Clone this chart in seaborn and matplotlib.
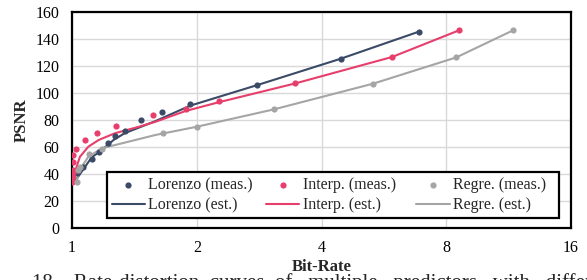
import matplotlib
matplotlib.use('Agg')
import matplotlib.pyplot as plt
import seaborn as sns
import pandas as pd

# measured points (bit-rate, PSNR)
lorenzo_rate = [1.03, 1.065, 1.116, 1.16, 1.22, 1.27, 1.34, 1.47, 1.65, 1.93, 2.79, 4.45, 6.87]
lorenzo_psnr = [40.2, 45.1, 50.6, 56.3, 62.5, 67.9, 71.9, 79.6, 85.7, 91.5, 105.6, 125.3, 145.4]
interp_rate = [1.0, 1.002, 1.003, 1.004, 1.005, 1.007, 1.02, 1.075, 1.15, 1.28, 1.57, 1.88, 2.26, 3.46, 5.92, 8.59]
interp_psnr = [34.0, 36.5, 40.2, 42.7, 48.9, 53.8, 58.3, 65.0, 70.2, 75.6, 83.3, 88.2, 93.9, 107.0, 126.6, 146.4]
regre_rate = [1.026, 1.035, 1.045, 1.10, 1.18, 1.655, 2.0, 3.07, 5.33, 8.46, 11.6]
regre_psnr = [34.0, 42.7, 45.1, 54.6, 58.3, 70.0, 74.8, 87.7, 106.8, 126.3, 146.4]

# estimated curves
lorenzo_est_rate = [1.02, 1.075, 1.115, 1.18, 1.26, 1.34, 1.59, 1.93, 2.79, 4.45, 6.87]
lorenzo_est_psnr = [35.0, 45.0, 52.0, 57.5, 65.0, 70.0, 79.0, 90.5, 105.6, 125.3, 145.4]
interp_est_rate = [1.013, 1.02, 1.045, 1.095, 1.16, 1.27, 1.45, 1.59, 1.88, 2.26, 3.46, 5.92, 8.59]
interp_est_psnr = [33.0, 42.7, 52.5, 60.0, 65.0, 70.0, 74.8, 78.5, 86.5, 93.0, 107.0, 126.6, 146.4]
regre_est_rate = [1.026, 1.055, 1.095, 1.18, 1.32, 1.59, 2.0, 3.07, 5.33, 8.46, 11.6]
regre_est_psnr = [35.0, 45.0, 52.5, 58.8, 62.5, 68.7, 74.8, 87.7, 106.8, 126.3, 146.4]

x_ticks = [1, 2, 4, 8, 16]
y_ticks = [0, 20, 40, 60, 80, 100, 120, 140, 160]

colors = {'Lorenzo': '#3B4A66', 'Interp.': '#E83E6C', 'Regre.': '#A5A5A5'}

sns.set_style('whitegrid')
plt.rcParams['font.family'] = ['Liberation Serif', 'DejaVu Serif']

fig = plt.figure(figsize=(5.87, 2.8), dpi=100)
ax = fig.add_axes([72/587, 1 - 227.5/280, 499/587, 215.5/280])

series = [
    ('Lorenzo', lorenzo_rate, lorenzo_psnr, lorenzo_est_rate, lorenzo_est_psnr),
    ('Interp.', interp_rate, interp_psnr, interp_est_rate, interp_est_psnr),
    ('Regre.', regre_rate, regre_psnr, regre_est_rate, regre_est_psnr),
]

for name, xr, yr, xe, ye in series:
    est = pd.DataFrame({'rate': xe, 'psnr': ye})
    meas = pd.DataFrame({'rate': xr, 'psnr': yr})
    sns.lineplot(data=est, x='rate', y='psnr', color=colors[name], linewidth=1.5,
                 label=name + ' (est.)', ax=ax, zorder=3)
    sns.scatterplot(data=meas, x='rate', y='psnr', color=colors[name], s=20,
                    linewidth=0, label=name + ' (meas.)', ax=ax, zorder=4)

ax.set_xscale('log', base=2)
ax.set_xlim(1, 16)
ax.set_ylim(0, 160)
ax.set_xticks(x_ticks)
ax.set_xticklabels([str(t) for t in x_ticks])
ax.minorticks_off()
ax.set_yticks(y_ticks)
ax.tick_params(axis='both', labelsize=11.5, length=0, colors='black')
ax.tick_params(axis='x', pad=9)
ax.tick_params(axis='y', pad=9)
ax.grid(True, color='#D9D9D9', linewidth=1.0)
for sp in ax.spines.values():
    sp.set_color('black')
    sp.set_linewidth(1.6)

ax.set_xlabel('Bit-Rate', fontsize=12, fontweight='bold', labelpad=2)
ax.set_ylabel('PSNR', fontsize=12, fontweight='bold', labelpad=4)

handles, labels = ax.get_legend_handles_labels()
lookup = dict(zip(labels, handles))
order = ['Lorenzo (meas.)', 'Lorenzo (est.)', 'Interp. (meas.)', 'Interp. (est.)',
         'Regre. (meas.)', 'Regre. (est.)']
shown = ['Lorenzo (meas.)', 'Lorenzo (est.)', 'Interp. (meas.)  ', 'Interp. (est.)',
         'Regre. (meas.)  ', 'Regre. (est.)']
leg = ax.legend([lookup[k] for k in order], shown, ncol=3, loc='lower left',
                bbox_to_anchor=(0.07, 0.044),
                fontsize=11.5, frameon=True, fancybox=False, framealpha=1,
                edgecolor='black', borderpad=0.3, handlelength=2.1,
                handletextpad=0.2, columnspacing=0.8, labelspacing=0.25,
                scatterpoints=1, borderaxespad=0)
leg.get_frame().set_linewidth(1.6)

fig.text(32/587, -0.03,
         '18.   Rate-distortion  curves  of   multiple   predictors   with   different',
         fontsize=15, ha='left', va='baseline')

fig.savefig('out.png', dpi=100)
